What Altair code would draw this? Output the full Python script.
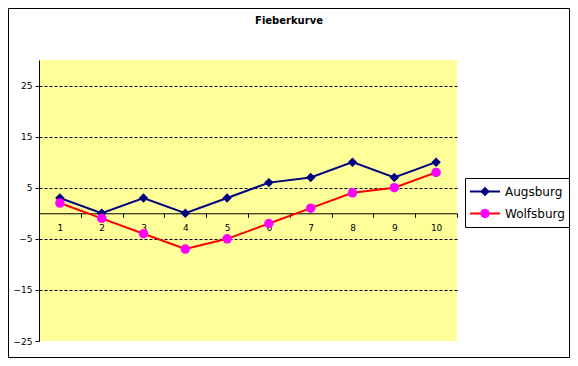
import altair as alt
import pandas as pd

categories = [1, 2, 3, 4, 5, 6, 7, 8, 9, 10]
augsburg = [3, 0, 3, 0, 3, 6, 7, 10, 7, 10]
wolfsburg = [2, -1, -4, -7, -5, -2, 1, 4, 5, 8]
series = ["Augsburg", "Wolfsburg"]
y_ticks = [-25, -15, -5, 5, 15, 25]

rows = []
for name, vals in zip(series, [augsburg, wolfsburg]):
    for c, v in zip(categories, vals):
        rows.append({"cat": c, "value": v, "series": name, "marker": name})
df = pd.DataFrame(rows)

W, H = 418, 281
PL, PT, PR, PB = 31, 52, 113, 17
CW, CH = PL + W + PR, PT + H + PB
FONT = "DejaVu Sans"
zero_offset = -H * 25 / 55

x_enc = alt.X(
    "cat:O",
    scale=alt.Scale(type="band", paddingInner=0, paddingOuter=0),
    axis=alt.Axis(
        title=None, labelAngle=0, offset=zero_offset, domainColor="black",
        tickColor="black", tickSize=4, tickBand="extent", labelPadding=6,
        labelFont=FONT, labelFontSize=9, labelColor="black", grid=False,
    ),
)
y_enc = alt.Y(
    "value:Q",
    scale=alt.Scale(domain=[-25, 30], nice=False, zero=False),
    axis=alt.Axis(
        title=None, values=y_ticks, domainColor="black", tickColor="black",
        tickSize=4, labelFont=FONT, labelFontSize=9, labelColor="black",
        labelPadding=3, grid=True, gridColor="black", gridDash=[3, 2],
        gridOpacity={"condition": {"test": "datum.value === -25", "value": 0}, "value": 1},
    ),
)

LX, LY = 426, 118

lines = alt.Chart(df).mark_line(strokeWidth=2).encode(
    x=x_enc,
    y=y_enc,
    stroke=alt.Stroke(
        "series:N",
        scale=alt.Scale(domain=series, range=["#000080", "#FF0000"]),
        legend=alt.Legend(
            title=None, orient="none", legendX=LX, legendY=LY,
            strokeColor="black", padding=4, symbolType="stroke",
            symbolSize=900, symbolStrokeWidth=2, clipHeight=19, rowPadding=3,
            labelFont=FONT, labelFontSize=12, labelColor="black", labelOffset=4,
        ),
    ),
)

marker_legend = alt.Legend(
    title=None, orient="none", legendX=LX, legendY=LY,
    padding=4, symbolSize=90, symbolStrokeWidth=0, clipHeight=19,
    rowPadding=3, symbolOffset=10, labelFont=FONT, labelFontSize=12,
    labelExpr="''",
)

points = alt.Chart(df).mark_point(filled=True, opacity=1, size=90, strokeWidth=0).encode(
    x=x_enc,
    y=y_enc,
    fill=alt.Fill(
        "marker:N",
        scale=alt.Scale(range=["#000080", "#FF00FF"]),
        legend=marker_legend,
    ),
    shape=alt.Shape(
        "marker:N",
        scale=alt.Scale(range=["diamond", "circle"]),
        legend=marker_legend,
    ),
)

border = alt.Chart(pd.DataFrame({"a": [0]})).mark_rect(
    filled=False, stroke="black", strokeWidth=1
).encode(
    x=alt.value(-PL + 0.5), x2=alt.value(CW - PL - 0.5),
    y=alt.value(-PT + 0.5), y2=alt.value(CH - PT - 0.5),
)

chart = alt.layer(border, lines, points).properties(
    width=W, height=H,
    autosize=alt.AutoSizeParams(type="none"),
    padding={"left": PL, "top": PT, "right": PR, "bottom": PB},
    title=alt.TitleParams(
        "Fieberkurve", font=FONT, fontSize=10, fontWeight="bold", color="black",
        anchor="middle", dx=41, offset=-28, baseline="bottom",
    ),
).configure(background="white").configure_view(fill="#FFFF99", stroke=None)

chart.save("out.html", embed_options={"renderer": "svg", "actions": False})
